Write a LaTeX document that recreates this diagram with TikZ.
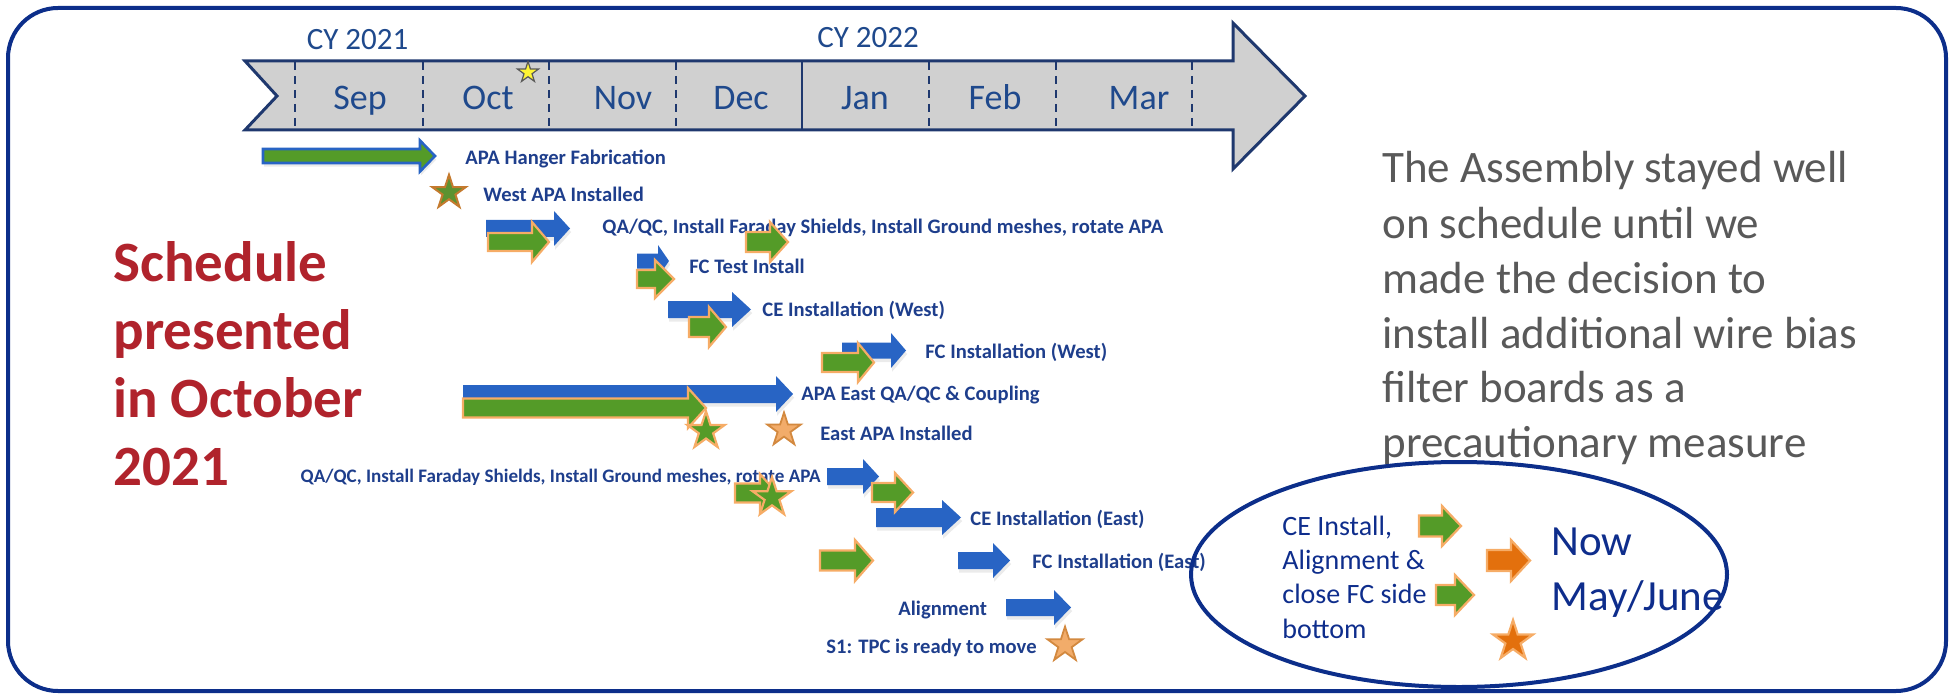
\documentclass[tikz,border=0pt]{standalone}
\usepackage{fontspec}
\setmainfont{Carlito}
\usetikzlibrary{shapes.geometric,shadows}

\definecolor{framenavy}{RGB}{12,46,138}
\definecolor{bandnavy}{RGB}{31,56,110}
\definecolor{bandgray}{RGB}{208,208,208}
\definecolor{monthblue}{RGB}{31,73,140}
\definecolor{labelblue}{RGB}{30,62,140}
\definecolor{arrowblue}{RGB}{40,100,196}
\definecolor{arrowgreen}{RGB}{84,155,40}
\definecolor{olivegreen}{RGB}{92,146,48}
\definecolor{arrowedge}{RGB}{246,172,102}
\definecolor{brownedge}{RGB}{196,122,46}
\definecolor{lightorange}{RGB}{242,172,106}
\definecolor{darkorange}{RGB}{227,112,13}
\definecolor{titlered}{RGB}{176,35,44}
\definecolor{notegray}{RGB}{89,89,89}
\definecolor{ovalnavy}{RGB}{14,45,140}

% block arrow: style, x start, x head base, x tip, y centre, body half-height, head half-height
\newcommand{\ganttarrow}[7]{%
  \path[#1] (#2,#5-#6) -- (#3,#5-#6) -- (#3,#5-#7) -- (#4,#5)
    -- (#3,#5+#7) -- (#3,#5+#6) -- (#2,#5+#6) -- cycle;}

\tikzset{
  frameline/.style={draw=framenavy, line width=2pt, rounded corners=25pt},
  bandshape/.style={fill=bandgray, draw=bandnavy, line width=1.5pt, line join=miter},
  monthdiv/.style={draw=bandnavy, line width=1.1pt, dash pattern=on 4pt off 3pt},
  monthsolid/.style={draw=bandnavy, line width=1.3pt},
  monthlabel/.style={text=monthblue, font=\fontsize{18}{20}\selectfont, anchor=base, inner sep=0pt},
  yearlabel/.style={text=monthblue, font=\fontsize{15.5}{18}\selectfont, anchor=base, inner sep=0pt},
  tasklabel/.style={text=labelblue, font=\bfseries\fontsize{10.3}{12}\selectfont, anchor=base west, inner sep=0pt},
  smalltasklabel/.style={tasklabel, font=\bfseries\fontsize{9.55}{11}\selectfont},
  bluearrow/.style={fill=arrowblue, drop shadow={opacity=0.16, shadow xshift=0.6pt, shadow yshift=-1.8pt}},
  greenarrow/.style={fill=arrowgreen, draw=arrowedge, line width=1.1pt, line join=miter},
  mixarrow/.style={fill=arrowgreen, draw=arrowblue, line width=1.3pt, line join=miter,
    drop shadow={opacity=0.16, shadow xshift=0.6pt, shadow yshift=-1.8pt}},
  orangearrow/.style={fill=darkorange, draw=arrowedge, line width=1.1pt, line join=miter},
  starbase/.style={star, star points=5, star point ratio=2.618, inner sep=0pt},
  greenstar/.style={starbase, minimum size=#1, fill=arrowgreen, draw=arrowedge, line width=1.1pt},
  olivestar/.style={starbase, minimum size=#1, fill=olivegreen, draw=brownedge, line width=1pt},
  paleorangestar/.style={starbase, minimum size=#1, fill=lightorange, draw=brownedge!70!arrowedge, line width=0.9pt},
  darkorangestar/.style={starbase, minimum size=#1, fill=darkorange, draw=arrowedge, line width=1.1pt},
  yellowstar/.style={starbase, minimum size=#1, fill=yellow!80!white, draw=gray!70!black, line width=0.6pt},
  bigtitle/.style={text=titlered, font=\bfseries\fontsize{28.5}{34}\selectfont, anchor=base west, inner sep=0pt},
  notetext/.style={text=notegray, font=\fontsize{22.5}{27.5}\selectfont, anchor=base west, inner sep=0pt},
  ovaltext/.style={text=ovalnavy, font=\fontsize{14}{17}\selectfont, anchor=base west, inner sep=0pt},
  nowtext/.style={text=ovalnavy, font=\fontsize{21.5}{27}\selectfont, anchor=base west, inner sep=0pt},
  ovalline/.style={draw=framenavy, line width=2pt}
}

\begin{document}
\begin{tikzpicture}[x=0.5pt,y=-0.5pt]
\useasboundingbox (0,0) rectangle (1952,695);

% slide frame
\draw[frameline] (8,8) rectangle (1946,691);

% timeline band with arrow head and notched tail
\path[bandshape] (245,61) -- (1233,61) -- (1233,23) -- (1305,96) -- (1233,169)
  -- (1233,130) -- (245,130) -- (277,96) -- cycle;
\foreach \mx in {295,423,549,676,929,1056,1192}
  \draw[monthdiv] (\mx,62) -- (\mx,129);
\draw[monthsolid] (802,61) -- (802,130);

\node[yearlabel] (cy21) at (357.5,50) {CY 2021};
\node[yearlabel] (cy22) at (868,48) {CY 2022};
\node[monthlabel] (msep) at (360,110) {Sep};
\node[monthlabel] (moct) at (488,110) {Oct};
\node[monthlabel] (mnov) at (623,110) {Nov};
\node[monthlabel] (mdec) at (741,110) {Dec};
\node[monthlabel] (mjan) at (865,110) {Jan};
\node[monthlabel] (mfeb) at (995,110) {Feb};
\node[monthlabel] (mmar) at (1139,110) {Mar};
\node[yellowstar=11pt] (today) at (528,72.5) {};

% task labels
\node[tasklabel] (t1) at (465,165) {APA Hanger Fabrication};
\node[tasklabel] (t2) at (483,201.5) {West APA Installed};
\node[tasklabel] (t3) at (602,233.3) {QA/QC, Install Faraday Shields, Install Ground meshes, rotate APA};
\node[tasklabel] (t4) at (689,273) {FC Test Install};
\node[tasklabel] (t5) at (762,316) {CE Installation (West)};
\node[tasklabel] (t6) at (925,358) {FC Installation (West)};
\node[tasklabel] (t7) at (801,400.5) {APA East QA/QC \& Coupling};
\node[tasklabel] (t8) at (820,440.5) {East APA Installed};
\node[smalltasklabel, anchor=base east] (t9) at (821,482.7) {QA/QC, Install Faraday Shields, Install Ground meshes, rotate APA};
\node[tasklabel] (t10) at (970,525) {CE Installation (East)};
\node[tasklabel] (t11) at (1032,568) {FC Installation (East)};
\node[tasklabel] (t12) at (898,615) {Alignment};
\node[tasklabel] (t13) at (826,653) {S1: TPC is ready to move};

% planned durations (blue)
\ganttarrow{bluearrow}{486}{554}{570}{228.5}{8.5}{17.5}
\ganttarrow{bluearrow}{637}{658}{669}{261}{7.5}{16}
\ganttarrow{bluearrow}{668}{732}{751}{309.5}{8.5}{17.5}
\ganttarrow{bluearrow}{842}{891}{906}{350.5}{8}{17.5}
\ganttarrow{bluearrow}{463}{776}{793}{394}{9}{18}
\ganttarrow{bluearrow}{827}{863}{879}{476.5}{8.5}{17.5}
\ganttarrow{bluearrow}{876}{942}{961}{517.5}{9.5}{17.5}
\ganttarrow{bluearrow}{958}{993}{1010}{560.5}{8.5}{17.5}
\ganttarrow{bluearrow}{1006}{1054}{1071}{607.5}{8.5}{17.5}

% actual progress (green)
\ganttarrow{mixarrow}{263}{420}{435}{156}{7}{15.5}
\ganttarrow{greenarrow}{488}{532}{549}{242}{9}{20}
\ganttarrow{greenarrow}{746}{770}{788}{242}{10}{20}
\ganttarrow{greenarrow}{637}{655}{674}{279}{9}{19}
\ganttarrow{greenarrow}{689}{709}{726}{327}{10}{20}
\ganttarrow{greenarrow}{822}{858}{874}{362.5}{9.5}{19.5}
\ganttarrow{greenarrow}{463}{688}{706}{408}{9.5}{20}
\ganttarrow{greenarrow}{735}{760}{777}{493}{9.5}{19}
\ganttarrow{greenarrow}{872}{895}{913}{492.5}{9.5}{19.5}
\ganttarrow{greenarrow}{820}{855}{873}{560.5}{10}{20.5}

% milestones
\node[olivestar=17.7pt] (s2) at (449,192.5) {};
\node[greenstar=19.7pt] (s8a) at (706,431) {};
\node[paleorangestar=17.5pt] (s8b) at (784,430) {};
\node[greenstar=20.5pt] (s9) at (772,497.5) {};
\node[paleorangestar=18.4pt] (s13) at (1065,645) {};

% title on the left
\node[bigtitle] (h1) at (113,281) {Schedule};
\node[bigtitle] (h2) at (113,349) {presented};
\node[bigtitle] (h3) at (113,417) {in October};
\node[bigtitle] (h4) at (113,485) {2021};

% note on the right
\node[notetext] (n1) at (1382,183) {The Assembly stayed well};
\node[notetext] (n2) at (1382,238) {on schedule until we};
\node[notetext] (n3) at (1382,293) {made the decision to};
\node[notetext] (n4) at (1382,348) {install additional wire bias};
\node[notetext] (n5) at (1382,402) {filter boards as a};
\node[notetext] (n6) at (1382,457) {precautionary measure};

% current status inside the oval
\node[ovaltext] (o1) at (1282,535) {CE Install,};
\node[ovaltext] (o2) at (1282,569) {Alignment \&};
\node[ovaltext] (o3) at (1282,603) {close FC side};
\node[ovaltext] (o4) at (1282,638) {bottom};
\ganttarrow{greenarrow}{1419}{1442}{1461}{526}{10.5}{20}
\ganttarrow{greenarrow}{1436}{1455}{1474}{595}{10}{20}
\ganttarrow{orangearrow}{1487}{1511}{1530}{560.5}{10.5}{20.5}
\node[darkorangestar=21pt] (os) at (1513,641) {};
\node[nowtext] (now1) at (1551,555) {Now};
\node[nowtext] (now2) at (1551,610) {May/June};
\draw[ovalline] (1459,574.5) ellipse [x radius=268, y radius=112.5];

\end{tikzpicture}
\end{document}
